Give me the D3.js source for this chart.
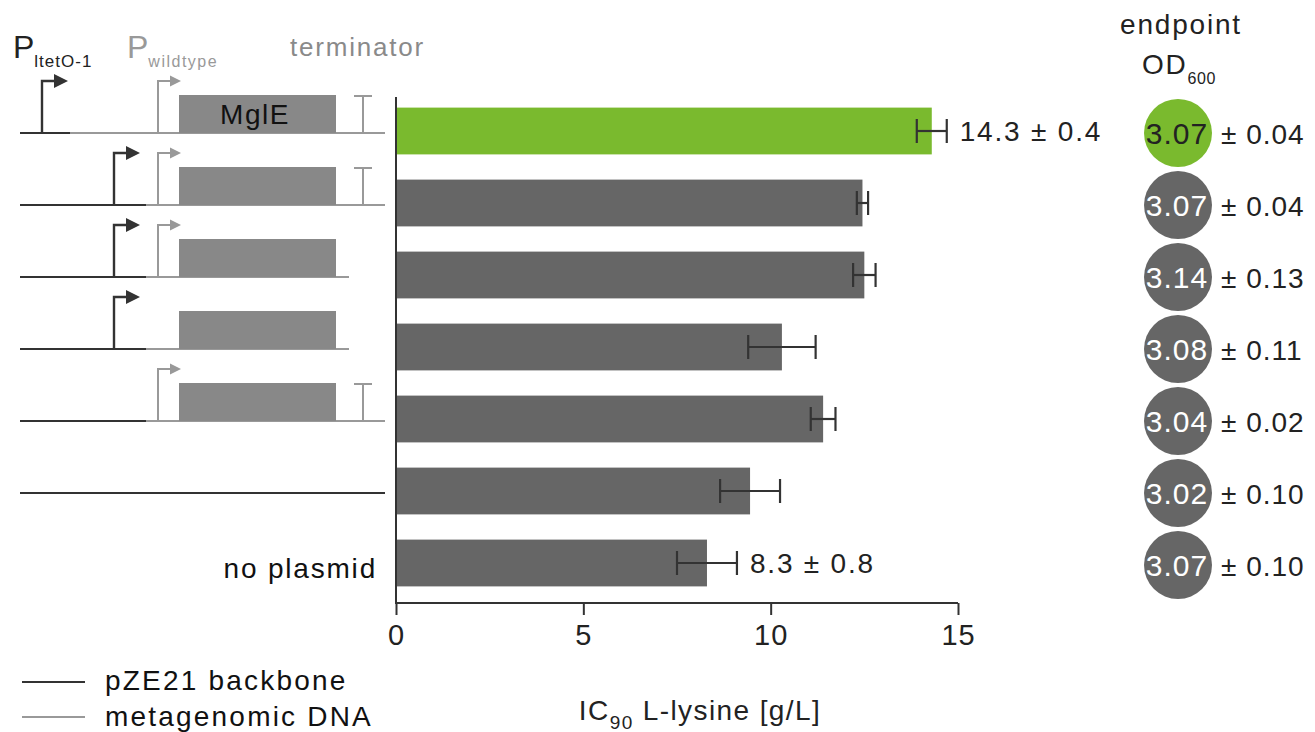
<!DOCTYPE html>
<html>
<head>
<meta charset="utf-8">
<title>IC90 L-lysine</title>
<script src="https://d3js.org/d3.v7.min.js"></script>
<style>
  body { margin: 0; background: #fff; }
  svg { display: block; font-family: "Liberation Sans", Arial, sans-serif; }
</style>
</head>
<body>
<div id="chart"></div>
<script>
// ---- data ----
const rows = ["mglE_tet_wt_term", "tet_wt_term", "tet_wt", "tet", "wt_term", "backbone", "no plasmid"];
const ic90 = [14.3, 12.45, 12.5, 10.3, 11.4, 9.45, 8.3];
const ic90Err = [0.4, 0.15, 0.3, 0.9, 0.33, 0.8, 0.8];
const valueLabels = ["14.3 ± 0.4", "", "", "", "", "", "8.3 ± 0.8"];
const odMean = ["3.07", "3.07", "3.14", "3.08", "3.04", "3.02", "3.07"];
const odErr = ["0.04", "0.04", "0.13", "0.11", "0.02", "0.10", "0.10"];
const highlight = [true, false, false, false, false, false, false];
const xTicks = [0, 5, 10, 15];

// construct elements per row (which parts are present)
const tetPromoter = ["up", "near", "near", "near", null, null, null];
const wtPromoter = [true, true, true, false, true, false, false];
const geneName = ["MglE", "", "", "", "", null, null];
const terminator = [true, true, false, false, true, false, false];
const backboneOnly = [false, false, false, false, false, true, false];

const W = 1315, H = 732;
const green = "#7aba2e", barGrey = "#666666", dark = "#333333", light = "#999999";
const ls = "1.8px";

const svg = d3.select("#chart").append("svg").attr("width", W).attr("height", H);

const x = d3.scaleLinear().domain([0, 15]).range([396, 958]);
const y = d3.scaleBand().domain(d3.range(rows.length)).range([95, 599])
  .paddingInner(0.35).paddingOuter(0.175);
const yc = i => y(i) + y.bandwidth() / 2;

// ---- bars ----
svg.append("g").selectAll("rect").data(ic90).join("rect")
  .attr("x", x(0)).attr("y", (d, i) => y(i))
  .attr("width", d => x(d) - x(0)).attr("height", y.bandwidth())
  .attr("fill", (d, i) => highlight[i] ? green : barGrey);

// error bars
const eb = svg.append("g").attr("stroke", dark).attr("stroke-width", 2.2).attr("fill", "none");
ic90.forEach((v, i) => {
  const e = ic90Err[i], c = yc(i);
  eb.append("line").attr("x1", x(v - e)).attr("x2", x(v + e)).attr("y1", c).attr("y2", c);
  eb.append("line").attr("x1", x(v - e)).attr("x2", x(v - e)).attr("y1", c - 12).attr("y2", c + 12);
  eb.append("line").attr("x1", x(v + e)).attr("x2", x(v + e)).attr("y1", c - 12).attr("y2", c + 12);
});

svg.append("g").selectAll("text").data(valueLabels).join("text")
  .attr("x", (d, i) => x(ic90[i] + ic90Err[i]) + 13)
  .attr("y", (d, i) => yc(i) + 10)
  .attr("font-size", 28).attr("letter-spacing", ls).attr("fill", "#222")
  .text(d => d);

// ---- axes ----
svg.append("line").attr("x1", x(0)).attr("x2", x(0)).attr("y1", 97).attr("y2", 604)
  .attr("stroke", dark).attr("stroke-width", 2);

const xAxis = svg.append("g").attr("transform", "translate(0,603)")
  .call(d3.axisBottom(x).tickValues(xTicks).tickSize(12).tickPadding(9).tickFormat(d3.format("d")));
xAxis.select(".domain").attr("stroke", dark).attr("stroke-width", 2).attr("d", `M${x(0)},0H${x(15)}`);
xAxis.selectAll(".tick line").attr("stroke", dark).attr("stroke-width", 2);
xAxis.selectAll(".tick text").attr("font-size", 29).attr("letter-spacing", "1px").attr("fill", "#222")
  .attr("font-family", "Liberation Sans, Arial, sans-serif");

const xl = svg.append("text").attr("x", 700).attr("y", 720).attr("text-anchor", "middle")
  .attr("font-size", 28).attr("letter-spacing", "1.4px").attr("fill", "#222");
xl.append("tspan").text("IC");
xl.append("tspan").attr("font-size", 19).attr("dy", 9).text("90");
xl.append("tspan").attr("dy", -9).text(" L-lysine [g/L]");

// ---- OD600 circles ----
const odX = 1178;
svg.append("g").selectAll("circle").data(odMean).join("circle")
  .attr("cx", odX).attr("cy", (d, i) => yc(i) + 2).attr("r", 34)
  .attr("fill", (d, i) => highlight[i] ? green : barGrey);
svg.append("g").selectAll("text").data(odMean).join("text")
  .attr("x", odX - 1).attr("y", (d, i) => yc(i) + 13).attr("text-anchor", "middle")
  .attr("font-size", 30).attr("letter-spacing", "1px").attr("fill", (d, i) => highlight[i] ? "#222" : "#fff")
  .text(d => d);
svg.append("g").selectAll("text").data(odErr).join("text")
  .attr("x", 1221).attr("y", (d, i) => yc(i) + 13)
  .attr("font-size", 28).attr("letter-spacing", "1px").attr("fill", "#222")
  .text(d => "± " + d);

svg.append("text").attr("x", 1181).attr("y", 34).attr("text-anchor", "middle")
  .attr("font-size", 28).attr("letter-spacing", ls).attr("fill", "#222").text("endpoint");
const od = svg.append("text").attr("x", 1142).attr("y", 74)
  .attr("font-size", 28).attr("letter-spacing", ls).attr("fill", "#222");
od.append("tspan").text("OD");
od.append("tspan").attr("font-size", 16).attr("letter-spacing", "0.5px").attr("dy", 10).text("600");

// ---- construct diagrams ----
const lx0 = 20, lxEnd = 385, lxShort = 349, bbEnd = 146;
const g = svg.append("g").attr("fill", "none");

function promoter(px, base, col, sw, head) {
  const top = base - 52;
  g.append("path").attr("d", `M${px},${base}V${top}H${px + 13}`)
    .attr("stroke", col).attr("stroke-width", sw);
  g.append("path").attr("d", `M${px + 12},${top - head / 2}L${px + 12 + head},${top}L${px + 12},${top + head / 2}Z`)
    .attr("fill", col);
}

rows.forEach((r, i) => {
  const base = yc(i) + 2;
  if (backboneOnly[i]) {
    g.append("line").attr("x1", lx0).attr("x2", lxEnd).attr("y1", base).attr("y2", base)
      .attr("stroke", dark).attr("stroke-width", 2.2);
    return;
  }
  if (geneName[i] === null) return;
  const bb = tetPromoter[i] === "up" ? 70 : bbEnd;
  const end = terminator[i] ? lxEnd : lxShort;
  g.append("line").attr("x1", bb).attr("x2", end).attr("y1", base).attr("y2", base)
    .attr("stroke", light).attr("stroke-width", 2);
  g.append("line").attr("x1", lx0).attr("x2", bb).attr("y1", base).attr("y2", base)
    .attr("stroke", dark).attr("stroke-width", 2.2);
  g.append("rect").attr("x", 179).attr("y", base - 38).attr("width", 157).attr("height", 38)
    .attr("fill", "#888888");
  if (geneName[i]) {
    g.append("text").attr("x", 255).attr("y", base - 9).attr("text-anchor", "middle")
      .attr("font-size", 28).attr("letter-spacing", "1.5px").attr("fill", "#111").text(geneName[i]);
  }
  if (terminator[i]) {
    g.append("path").attr("d", `M363,${base}V${base - 37}M354,${base - 37}H372`)
      .attr("stroke", light).attr("stroke-width", 2);
  }
  if (wtPromoter[i]) promoter(158, base, light, 2, 11);
  if (tetPromoter[i] === "up") promoter(42, base, dark, 2.4, 14);
  if (tetPromoter[i] === "near") promoter(114, base, dark, 2.4, 14);
});

svg.append("text").attr("x", 377).attr("y", 578).attr("text-anchor", "end")
  .attr("font-size", 28).attr("letter-spacing", ls).attr("fill", "#111").text(rows[6]);

// header labels
const p1 = svg.append("text").attr("x", 13).attr("y", 58).attr("font-size", 32).attr("fill", "#222");
p1.append("tspan").text("P");
p1.append("tspan").attr("font-size", 17).attr("letter-spacing", "1px").attr("dy", 9).text("ltetO-1");
const p2 = svg.append("text").attr("x", 127).attr("y", 58).attr("font-size", 32).attr("fill", light);
p2.append("tspan").text("P");
p2.append("tspan").attr("font-size", 16).attr("letter-spacing", "1.5px").attr("dy", 9).text("wildtype");
svg.append("text").attr("x", 290).attr("y", 56).attr("font-size", 26).attr("letter-spacing", ls)
  .attr("fill", "#8a8a8a").text("terminator");

// legend
const lg = svg.append("g");
lg.append("line").attr("x1", 22).attr("x2", 85).attr("y1", 682).attr("y2", 682).attr("stroke", dark).attr("stroke-width", 2.2);
lg.append("line").attr("x1", 22).attr("x2", 85).attr("y1", 717).attr("y2", 717).attr("stroke", light).attr("stroke-width", 2.2);
lg.append("text").attr("x", 105).attr("y", 690).attr("font-size", 28).attr("letter-spacing", "2.2px").attr("fill", "#111").text("pZE21 backbone");
lg.append("text").attr("x", 105).attr("y", 726).attr("font-size", 28).attr("letter-spacing", "2.2px").attr("fill", "#111").text("metagenomic DNA");
</script>
</body>
</html>
